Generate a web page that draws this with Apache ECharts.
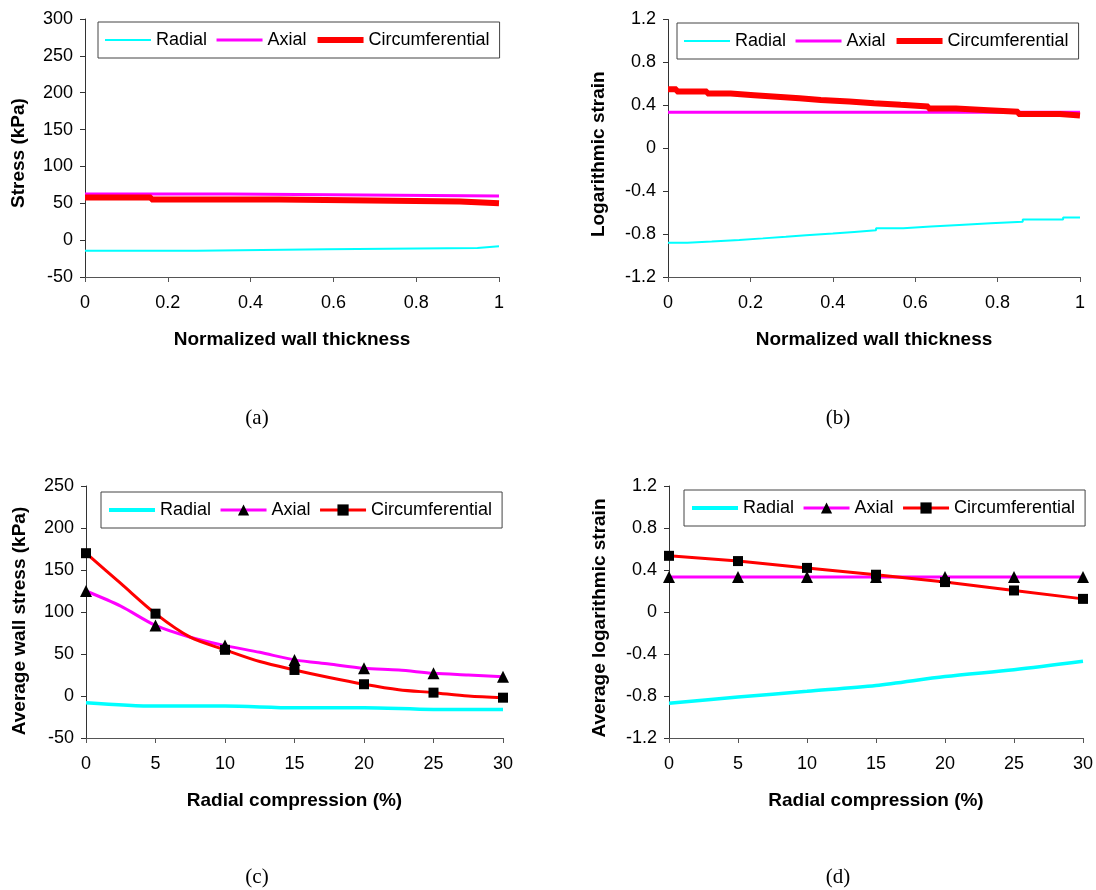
<!DOCTYPE html>
<html>
<head>
<meta charset="utf-8">
<title>Wall stress and strain</title>
<script src="https://cdn.jsdelivr.net/npm/echarts@6/dist/echarts.min.js"></script>
<style>
  body { margin: 0; background: #fff; }
  #wrap { position: relative; width: 1096px; height: 890px; }
  .panel { position: absolute; width: 548px; height: 445px; }
</style>
</head>
<body>
<div id="wrap">
  <div class="panel" id="pa" style="left:0;top:0"></div>
  <div class="panel" id="pb" style="left:548px;top:0"></div>
  <div class="panel" id="pc" style="left:0;top:445px"></div>
  <div class="panel" id="pd" style="left:548px;top:445px"></div>
</div>
<script>
// (a) stress across the wall: where each level starts, and the level (kPa)
const aRadialX = [0, 0.27, 0.585, 0.948, 1];
const aRadialY = [-14.5, -12.5, -10.5, -8.3, -8.3];
const aAxialX = [0, 0.35, 1];
const aAxialY = [62.5, 60, 60];
const aCircX = [0, 0.16, 0.47, 0.906, 1];
const aCircY = [58, 55, 52.5, 50, 50];

// (b) logarithmic strain across the wall (staircase)
const bRadialX = [0, 0.047, 0.106, 0.173, 0.23, 0.286, 0.335, 0.40, 0.452, 0.505, 0.571, 0.638, 0.707, 0.783, 0.861, 0.959, 1];
const bRadialY = [-0.88, -0.87, -0.855, -0.84, -0.825, -0.81, -0.795, -0.78, -0.765, -0.745, -0.73, -0.715, -0.70, -0.685, -0.665, -0.645, -0.645];
const bAxialX = [0, 1];
const bAxialY = [0.335, 0.335];
const bCircX = [0, 0.021, 0.095, 0.152, 0.209, 0.264, 0.319, 0.371, 0.44, 0.50, 0.565, 0.632, 0.699, 0.777, 0.85, 0.951, 1];
const bCircY = [0.55, 0.53, 0.51, 0.495, 0.48, 0.465, 0.45, 0.435, 0.42, 0.405, 0.39, 0.37, 0.355, 0.34, 0.32, 0.305, 0.305];

// (c), (d) averages vs radial compression
const compX = [0, 5, 10, 15, 20, 25, 30];
const midX = [2.5, 7.5, 12.5, 17.5, 22.5, 27.5];
const cRadial = [-8, -12, -12, -14, -14, -16, -16];
const cAxial = [125, 84, 60, 43, 33, 27, 23];
const cAxialMid = [107, 70, 52, 38, 31, 25];
const cCirc = [170, 98, 55, 31, 14, 4, -2];
const cCircMid = [134, 70, 41, 22, 7.5, 0];
const dRadial = [-0.87, -0.81, -0.755, -0.70, -0.615, -0.55, -0.47];
const dAxial = [0.333, 0.333, 0.333, 0.333, 0.333, 0.333, 0.333];
const dCirc = [0.535, 0.485, 0.42, 0.355, 0.285, 0.205, 0.125];

const FONT = "'Liberation Sans', Arial, sans-serif";
const CYAN = "#00ffff", MAGENTA = "#ff00ff", RED = "#ff0000";

function zip(xs, ys) {
  return xs.map((x, i) => [x, ys[i]]);
}

// staircase: hold each level until the next break
function steps(xs, ys) {
  const out = [];
  for (let i = 0; i < xs.length - 1; i++) {
    out.push([xs[i], ys[i]], [xs[i + 1], ys[i]]);
  }
  out.push([xs[xs.length - 1], ys[ys.length - 1]]);
  return out;
}

// marker points at 5 % steps, plain line points in between
function withMids(vals, mids) {
  const out = [];
  compX.forEach((x, i) => {
    out.push([x, vals[i]]);
    if (i < mids.length) out.push({ value: [midX[i], mids[i]], symbol: "none" });
  });
  return out;
}

function makePanel(id, p) {
  const chart = echarts.init(document.getElementById(id), null, { renderer: "canvas" });
  const titleStyle = { fontSize: 19, fontWeight: "bold", color: "#000", fontFamily: FONT };
  chart.setOption({
    animation: false,
    textStyle: { fontFamily: FONT },
    grid: p.grid,
    xAxis: {
      type: "value", min: p.x[0], max: p.x[1], interval: p.x[2],
      name: p.xName, nameLocation: "middle", nameGap: 53,
      nameTextStyle: titleStyle,
      axisLine: { onZero: false, lineStyle: { color: "#555", width: 1 } },
      axisTick: { length: 5, lineStyle: { color: "#555" } },
      axisLabel: { fontSize: 18, color: "#000", margin: 17 },
      splitLine: { show: false }
    },
    yAxis: {
      type: "value", min: p.y[0], max: p.y[1], interval: p.y[2],
      name: p.yName, nameLocation: "middle", nameGap: p.yGap,
      // extra right padding nudges the rotated title a little downwards
      nameTextStyle: Object.assign({ padding: [0, p.yShift * 2, 0, 0] }, titleStyle),
      axisLine: { lineStyle: { color: "#333", width: 1 } },
      axisTick: { length: 5, lineStyle: { color: "#333" } },
      axisLabel: { fontSize: 18, color: "#000", margin: 12 },
      splitLine: { show: false }
    },
    legend: {
      left: p.legend[0], top: p.legend[1],
      orient: "horizontal",
      padding: [9, 10, 9, 6],
      itemGap: 8, itemWidth: 46, itemHeight: 14,
      borderColor: "#444", borderWidth: 1,
      selectedMode: false,
      textStyle: { fontSize: 18, color: "#000" },
      data: p.legendData
    },
    graphic: [{
      type: "text", x: p.caption[0], y: p.caption[1],
      style: { text: p.caption[2], fontFamily: "'Liberation Serif', 'Times New Roman', serif",
               fontSize: 21, fill: "#000", align: "center", verticalAlign: "middle" }
    }],
    series: p.series
  });
  return chart;
}

const lineLegend = (w1, w2, w3, hideSym) => [
  { name: "Radial", lineStyle: { width: w1 }, itemStyle: { opacity: 0 } },
  { name: "Axial", lineStyle: { width: w2 }, itemStyle: hideSym ? { opacity: 0 } : {} },
  { name: "Circumferential", lineStyle: { width: w3 }, itemStyle: hideSym ? { opacity: 0 } : {} }
];

// (a)
makePanel("pa", {
  grid: { left: 85, top: 19, width: 414, height: 258 },
  x: [0, 1, 0.2], y: [-50, 300, 50],
  xName: "Normalized wall thickness", yName: "Stress (kPa)", yGap: 57, yShift: 5,
  legend: [98, 22], legendData: lineLegend(2, 3, 6, true),
  caption: [257, 418, "(a)"],
  series: [
    { name: "Radial", type: "line", symbol: "none", data: steps(aRadialX, aRadialY),
      lineStyle: { color: CYAN, width: 2 }, itemStyle: { color: CYAN } },
    { name: "Axial", type: "line", symbol: "none", data: steps(aAxialX, aAxialY),
      lineStyle: { color: MAGENTA, width: 3 }, itemStyle: { color: MAGENTA } },
    { name: "Circumferential", type: "line", symbol: "none", data: steps(aCircX, aCircY),
      lineStyle: { color: RED, width: 6 }, itemStyle: { color: RED } }
  ]
});

// (b)
makePanel("pb", {
  grid: { left: 120, top: 19.5, width: 412, height: 257.5 },
  x: [0, 1, 0.2], y: [-1.2, 1.2, 0.4],
  xName: "Normalized wall thickness", yName: "Logarithmic strain", yGap: 60, yShift: 6,
  legend: [129, 23], legendData: lineLegend(2, 3, 6, true),
  caption: [290, 418, "(b)"],
  series: [
    { name: "Radial", type: "line", symbol: "none", data: steps(bRadialX, bRadialY),
      lineStyle: { color: CYAN, width: 2 }, itemStyle: { color: CYAN } },
    { name: "Axial", type: "line", symbol: "none", data: zip(bAxialX, bAxialY),
      lineStyle: { color: MAGENTA, width: 3 }, itemStyle: { color: MAGENTA } },
    { name: "Circumferential", type: "line", symbol: "none", data: steps(bCircX, bCircY),
      lineStyle: { color: RED, width: 6 }, itemStyle: { color: RED } }
  ]
});

// (c)
makePanel("pc", {
  grid: { left: 86, top: 41, width: 417, height: 252 },
  x: [0, 30, 5], y: [-50, 250, 50],
  xName: "Radial compression (%)", yName: "Average wall stress (kPa)", yGap: 57, yShift: 9,
  legend: [101, 47], legendData: lineLegend(4, 3, 3, false),
  caption: [257, 432, "(c)"],
  series: [
    { name: "Radial", type: "line", smooth: 0.3, symbol: "none", data: zip(compX, cRadial),
      lineStyle: { color: CYAN, width: 3.5 }, itemStyle: { color: CYAN } },
    { name: "Axial", type: "line", smooth: 0.3, symbol: "triangle", symbolSize: 12,
      showAllSymbol: true, data: withMids(cAxial, cAxialMid),
      lineStyle: { color: MAGENTA, width: 3 }, itemStyle: { color: "#000" } },
    { name: "Circumferential", type: "line", smooth: 0.3, symbol: "rect", symbolSize: 10,
      showAllSymbol: true, data: withMids(cCirc, cCircMid),
      lineStyle: { color: RED, width: 3 }, itemStyle: { color: "#000" } }
  ]
});

// (d)
makePanel("pd", {
  grid: { left: 121, top: 41, width: 414, height: 252 },
  x: [0, 30, 5], y: [-1.2, 1.2, 0.4],
  xName: "Radial compression (%)", yName: "Average logarithmic strain", yGap: 60, yShift: 6,
  legend: [136, 45], legendData: lineLegend(4, 3, 3, false),
  caption: [290, 432, "(d)"],
  series: [
    { name: "Radial", type: "line", smooth: 0.3, symbol: "none", data: zip(compX, dRadial),
      lineStyle: { color: CYAN, width: 3.5 }, itemStyle: { color: CYAN } },
    { name: "Axial", type: "line", symbol: "triangle", symbolSize: 12,
      showAllSymbol: true, data: zip(compX, dAxial),
      lineStyle: { color: MAGENTA, width: 3 }, itemStyle: { color: "#000" } },
    { name: "Circumferential", type: "line", symbol: "rect", symbolSize: 10,
      showAllSymbol: true, data: zip(compX, dCirc),
      lineStyle: { color: RED, width: 3 }, itemStyle: { color: "#000" } }
  ]
});
</script>
</body>
</html>
